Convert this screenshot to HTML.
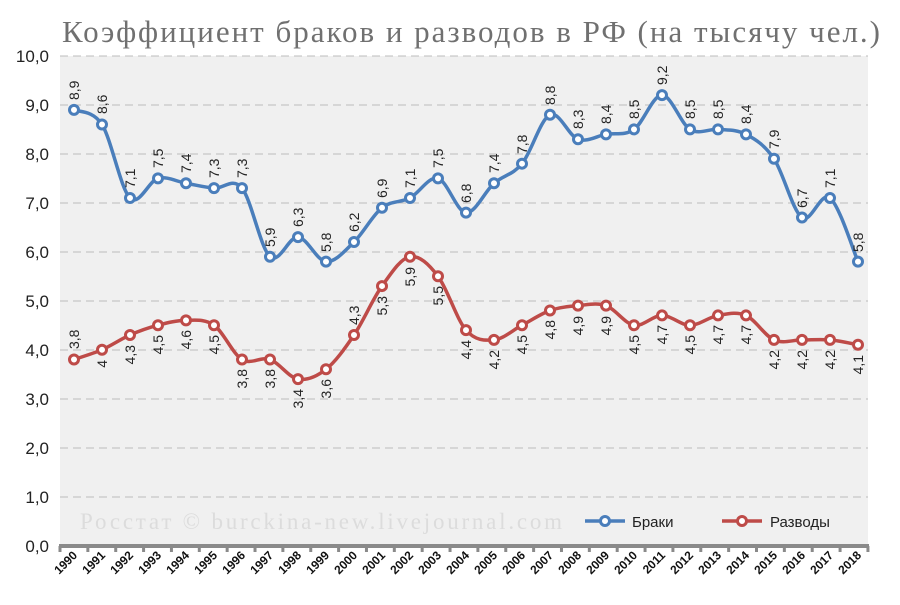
<!DOCTYPE html>
<html><head><meta charset="utf-8"><style>
body{margin:0;background:#fff;}
svg{display:block;font-family:"Liberation Sans","DejaVu Sans",sans-serif;}
.bl text,.rd text{font-size:14px;fill:#222;}
</style></head><body>
<svg id="s" width="900" height="605" viewBox="0 0 900 605">
<rect x="60" y="56" width="808" height="490" fill="#f0f0f0"/>
<text x="62" y="42" font-family="Liberation Serif,serif" font-size="31" fill="#707070" textLength="818">Коэффициент браков и разводов в РФ (на тысячу чел.)</text>
<g stroke="#bdbdbd" stroke-dasharray="8,5" stroke-width="1">
<line x1="60" x2="868" y1="56" y2="56"/><line x1="60" x2="868" y1="105" y2="105"/><line x1="60" x2="868" y1="154" y2="154"/><line x1="60" x2="868" y1="203" y2="203"/><line x1="60" x2="868" y1="252" y2="252"/><line x1="60" x2="868" y1="301" y2="301"/><line x1="60" x2="868" y1="350" y2="350"/><line x1="60" x2="868" y1="399" y2="399"/><line x1="60" x2="868" y1="448" y2="448"/><line x1="60" x2="868" y1="497" y2="497"/>
</g>
<g font-size="17" fill="#222" text-anchor="end">
<text x="49" y="62">10,0</text><text x="49" y="111">9,0</text><text x="49" y="160">8,0</text><text x="49" y="209">7,0</text><text x="49" y="258">6,0</text><text x="49" y="307">5,0</text><text x="49" y="356">4,0</text><text x="49" y="405">3,0</text><text x="49" y="454">2,0</text><text x="49" y="503">1,0</text><text x="49" y="552">0,0</text>
</g>
<text x="80" y="529" font-family="Liberation Serif,serif" font-size="23" fill="#dcdcdc" textLength="482">Росстат © burckina-new.livejournal.com</text>
<line x1="59" x2="869" y1="546" y2="546" stroke="#8a8a8a" stroke-width="4"/>
<g id="ticks" stroke="#8a8a8a" stroke-width="3"></g>
<g id="yrs" font-size="12" font-weight="bold" fill="#111" text-anchor="end">
<text transform="translate(78,556) rotate(-45)">1990</text><text transform="translate(106,556) rotate(-45)">1991</text><text transform="translate(134,556) rotate(-45)">1992</text><text transform="translate(162,556) rotate(-45)">1993</text><text transform="translate(190,556) rotate(-45)">1994</text><text transform="translate(218,556) rotate(-45)">1995</text><text transform="translate(246,556) rotate(-45)">1996</text><text transform="translate(274,556) rotate(-45)">1997</text><text transform="translate(302,556) rotate(-45)">1998</text><text transform="translate(330,556) rotate(-45)">1999</text><text transform="translate(358,556) rotate(-45)">2000</text><text transform="translate(386,556) rotate(-45)">2001</text><text transform="translate(414,556) rotate(-45)">2002</text><text transform="translate(442,556) rotate(-45)">2003</text><text transform="translate(470,556) rotate(-45)">2004</text><text transform="translate(498,556) rotate(-45)">2005</text><text transform="translate(526,556) rotate(-45)">2006</text><text transform="translate(554,556) rotate(-45)">2007</text><text transform="translate(582,556) rotate(-45)">2008</text><text transform="translate(610,556) rotate(-45)">2009</text><text transform="translate(638,556) rotate(-45)">2010</text><text transform="translate(666,556) rotate(-45)">2011</text><text transform="translate(694,556) rotate(-45)">2012</text><text transform="translate(722,556) rotate(-45)">2013</text><text transform="translate(750,556) rotate(-45)">2014</text><text transform="translate(778,556) rotate(-45)">2015</text><text transform="translate(806,556) rotate(-45)">2016</text><text transform="translate(834,556) rotate(-45)">2017</text><text transform="translate(862,556) rotate(-45)">2018</text>
</g>
<g id="lines"></g>
<g class="bl">
<text transform="translate(79,100) rotate(-90)">8,9</text><text transform="translate(107,114) rotate(-90)">8,6</text><text transform="translate(135,188) rotate(-90)">7,1</text><text transform="translate(163,168) rotate(-90)">7,5</text><text transform="translate(191,173) rotate(-90)">7,4</text><text transform="translate(219,178) rotate(-90)">7,3</text><text transform="translate(247,178) rotate(-90)">7,3</text><text transform="translate(275,247) rotate(-90)">5,9</text><text transform="translate(303,227) rotate(-90)">6,3</text><text transform="translate(331,252) rotate(-90)">5,8</text><text transform="translate(359,232) rotate(-90)">6,2</text><text transform="translate(387,198) rotate(-90)">6,9</text><text transform="translate(415,188) rotate(-90)">7,1</text><text transform="translate(443,168) rotate(-90)">7,5</text><text transform="translate(471,203) rotate(-90)">6,8</text><text transform="translate(499,173) rotate(-90)">7,4</text><text transform="translate(527,154) rotate(-90)">7,8</text><text transform="translate(555,105) rotate(-90)">8,8</text><text transform="translate(583,129) rotate(-90)">8,3</text><text transform="translate(611,124) rotate(-90)">8,4</text><text transform="translate(639,119) rotate(-90)">8,5</text><text transform="translate(667,85) rotate(-90)">9,2</text><text transform="translate(695,119) rotate(-90)">8,5</text><text transform="translate(723,119) rotate(-90)">8,5</text><text transform="translate(751,124) rotate(-90)">8,4</text><text transform="translate(779,149) rotate(-90)">7,9</text><text transform="translate(807,208) rotate(-90)">6,7</text><text transform="translate(835,188) rotate(-90)">7,1</text><text transform="translate(863,252) rotate(-90)">5,8</text>
</g>
<g class="rd">
<text transform="translate(79,349) rotate(-90)">3,8</text>
<text text-anchor="end" transform="translate(107,360) rotate(-90)">4</text><text text-anchor="end" transform="translate(135,345) rotate(-90)">4,3</text><text text-anchor="end" transform="translate(163,335) rotate(-90)">4,5</text><text text-anchor="end" transform="translate(191,330) rotate(-90)">4,6</text><text text-anchor="end" transform="translate(219,335) rotate(-90)">4,5</text><text text-anchor="end" transform="translate(247,369) rotate(-90)">3,8</text><text text-anchor="end" transform="translate(275,369) rotate(-90)">3,8</text><text text-anchor="end" transform="translate(303,389) rotate(-90)">3,4</text><text text-anchor="end" transform="translate(331,379) rotate(-90)">3,6</text>
<text transform="translate(359,325) rotate(-90)">4,3</text>
<text text-anchor="end" transform="translate(387,296) rotate(-90)">5,3</text><text text-anchor="end" transform="translate(415,267) rotate(-90)">5,9</text><text text-anchor="end" transform="translate(443,286) rotate(-90)">5,5</text><text text-anchor="end" transform="translate(471,340) rotate(-90)">4,4</text><text text-anchor="end" transform="translate(499,350) rotate(-90)">4,2</text><text text-anchor="end" transform="translate(527,335) rotate(-90)">4,5</text><text text-anchor="end" transform="translate(555,320) rotate(-90)">4,8</text><text text-anchor="end" transform="translate(583,316) rotate(-90)">4,9</text><text text-anchor="end" transform="translate(611,316) rotate(-90)">4,9</text><text text-anchor="end" transform="translate(639,335) rotate(-90)">4,5</text><text text-anchor="end" transform="translate(667,325) rotate(-90)">4,7</text><text text-anchor="end" transform="translate(695,335) rotate(-90)">4,5</text><text text-anchor="end" transform="translate(723,325) rotate(-90)">4,7</text><text text-anchor="end" transform="translate(751,325) rotate(-90)">4,7</text><text text-anchor="end" transform="translate(779,350) rotate(-90)">4,2</text><text text-anchor="end" transform="translate(807,350) rotate(-90)">4,2</text><text text-anchor="end" transform="translate(835,350) rotate(-90)">4,2</text><text text-anchor="end" transform="translate(863,355) rotate(-90)">4,1</text>
</g>
<g>
<line x1="585" x2="625" y1="521" y2="521" stroke="#4a7ebb" stroke-width="3.5"/><circle cx="605" cy="521" r="4.5" fill="#fff" stroke="#4a7ebb" stroke-width="3"/>
<text x="632" y="527" font-size="15" fill="#222">Браки</text>
<line x1="722" x2="762" y1="521" y2="521" stroke="#be4b48" stroke-width="3.5"/><circle cx="742" cy="521" r="4.5" fill="#fff" stroke="#be4b48" stroke-width="3"/>
<text x="770" y="527" font-size="15" fill="#222">Разводы</text>
</g>
</svg>
<script>
var B=[8.9,8.6,7.1,7.5,7.4,7.3,7.3,5.9,6.3,5.8,6.2,6.9,7.1,7.5,6.8,7.4,7.8,8.8,8.3,8.4,8.5,9.2,8.5,8.5,8.4,7.9,6.7,7.1,5.8];
var R=[3.8,4,4.3,4.5,4.6,4.5,3.8,3.8,3.4,3.6,4.3,5.3,5.9,5.5,4.4,4.2,4.5,4.8,4.9,4.9,4.5,4.7,4.5,4.7,4.7,4.2,4.2,4.2,4.1];
var ns="http://www.w3.org/2000/svg",L=document.getElementById("lines"),T=document.getElementById("ticks");
for(var i=0;i<=29;i++){var l=document.createElementNS(ns,"line");var x=60+i*27.86;l.setAttribute("x1",x);l.setAttribute("x2",x);l.setAttribute("y1",546);l.setAttribute("y2",552);T.appendChild(l);}
function draw(d,c){var p=d.map(function(v,i){return[74+28*i,545.5-48.95*v]});var s="M"+p[0];
for(var i=0;i<p.length-1;i++){var a=p[Math.max(i-1,0)],b=p[i],c2=p[i+1],e=p[Math.min(i+2,p.length-1)];
s+=" C"+(b[0]+(c2[0]-a[0])/6)+","+(b[1]+(c2[1]-a[1])/6)+" "+(c2[0]-(e[0]-b[0])/6)+","+(c2[1]-(e[1]-b[1])/6)+" "+c2;}
var P=document.createElementNS(ns,"path");P.setAttribute("d",s);P.setAttribute("fill","none");P.setAttribute("stroke",c);P.setAttribute("stroke-width","3.5");L.appendChild(P);
p.forEach(function(q){var C=document.createElementNS(ns,"circle");C.setAttribute("cx",q[0]);C.setAttribute("cy",q[1]);C.setAttribute("r",4.5);C.setAttribute("fill","#fff");C.setAttribute("stroke",c);C.setAttribute("stroke-width",3);L.appendChild(C);});}
draw(B,"#4a7ebb");draw(R,"#be4b48");
</script>
</body></html>
